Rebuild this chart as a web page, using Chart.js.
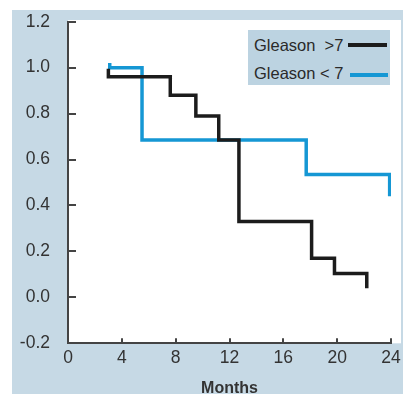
<!DOCTYPE html>
<html lang="en">
<head>
<meta charset="UTF-8">
<title>Survival by Gleason score</title>
<style>
  body { margin: 0; background: #fff; }
  .wrap { position: relative; width: 403px; height: 394px; }
  .legend {
    position: absolute; left: 248px; top: 30px; width: 142px; height: 55px;
    background: #bcd3e1; color: #2a2a2a;
    font: 16.5px 'Liberation Sans', Arial, sans-serif;
  }
  .legend .row { position: absolute; left: 6px; white-space: pre; line-height: 18px; }
  .legend .swatch { position: absolute; height: 4px; }
</style>
<script src="https://cdn.jsdelivr.net/npm/chart.js"></script>
</head>
<body>
<div class="wrap">
  <canvas id="chart"></canvas>
  <div class="legend">
    <span class="row" style="top:6px">Gleason  &gt;7</span>
    <span class="swatch" style="left:100px;top:13px;width:39px;background:#1c1c1c"></span>
    <span class="row" style="top:34px">Gleason &lt; 7</span>
    <span class="swatch" style="left:102px;top:43px;width:38px;background:#1597d4"></span>
  </div>
</div>
<script>
  // Kaplan-Meier style steps
  const highMonths   = [3.0, 3.0, 7.6, 9.5, 11.2, 12.7, 18.1, 19.8, 22.2];
  const highSurvival = [0.995, 0.96, 0.88, 0.79, 0.685, 0.33, 0.17, 0.104, 0.04];
  const lowMonths    = [3.1, 3.1, 5.5, 17.7, 23.9];
  const lowSurvival  = [1.02, 1.0, 0.685, 0.535, 0.44];

  const xTicks = [0, 4, 8, 12, 16, 20, 24];
  const yTicks = [-0.2, 0.0, 0.2, 0.4, 0.6, 0.8, 1.0, 1.2];

  const toPoints = (xs, ys) => xs.map((x, i) => ({ x: x, y: ys[i] }));

  // blue-grey frame with the white plot panel
  const framePlugin = {
    id: 'frame',
    beforeDraw(chart) {
      const { ctx, chartArea } = chart;
      ctx.save();
      ctx.fillStyle = '#c6d9e5';
      ctx.fillRect(12, 10, chart.width - 12, chart.height - 10);
      ctx.fillStyle = '#ffffff';
      ctx.fillRect(chartArea.left, 20, 401 - chartArea.left, chartArea.bottom - 20);
      ctx.restore();
    }
  };

  Chart.defaults.font.family = "'Liberation Sans', Arial, sans-serif";

  new Chart(document.getElementById('chart'), {
    type: 'scatter',
    data: {
      datasets: [
        {
          label: 'Gleason  >7',
          data: toPoints(highMonths, highSurvival),
          showLine: true, stepped: 'before',
          borderColor: '#1c1c1c', borderWidth: 3.5,
          pointRadius: 0
        },
        {
          label: 'Gleason < 7',
          data: toPoints(lowMonths, lowSurvival),
          showLine: true, stepped: 'before',
          borderColor: '#1597d4', borderWidth: 3.5,
          pointRadius: 0
        }
      ]
    },
    options: {
      responsive: true,
      maintainAspectRatio: false,
      animation: false,
      layout: { padding: { top: 21.7, right: 12, left: 0, bottom: 0 } },
      plugins: { legend: { display: false }, tooltip: { enabled: false } },
      scales: {
        x: {
          type: 'linear',
          min: xTicks[0], max: xTicks[xTicks.length - 1],
          afterFit(s) { s.height = 50.7; s.paddingLeft = 0; s.paddingRight = 0; },
          afterBuildTicks(s) { s.ticks = xTicks.map(v => ({ value: v })); },
          ticks: { padding: 9, color: '#333', font: { size: 17.5 } },
          grid: { drawOnChartArea: false, tickLength: -5, color: '#444', lineWidth: 2 },
          border: { color: '#444', width: 2 },
          title: {
            display: true, text: 'Months', color: '#333',
            font: { size: 16, weight: 'bold' }, padding: { top: 0, bottom: -4 }
          }
        },
        y: {
          min: yTicks[0], max: yTicks[yTicks.length - 1],
          afterFit(s) { s.width = 68; s.paddingTop = 0; s.paddingBottom = 0; },
          afterBuildTicks(s) { s.ticks = yTicks.map(v => ({ value: v })); },
          ticks: {
            padding: 26, color: '#333', font: { size: 17.5 },
            callback: v => (Math.abs(v) < 1e-9 ? 0 : v).toFixed(1)
          },
          grid: { drawOnChartArea: false, tickLength: -8, color: '#444', lineWidth: 2 },
          border: { color: '#444', width: 2 }
        }
      }
    },
    plugins: [framePlugin]
  });
</script>
</body>
</html>
